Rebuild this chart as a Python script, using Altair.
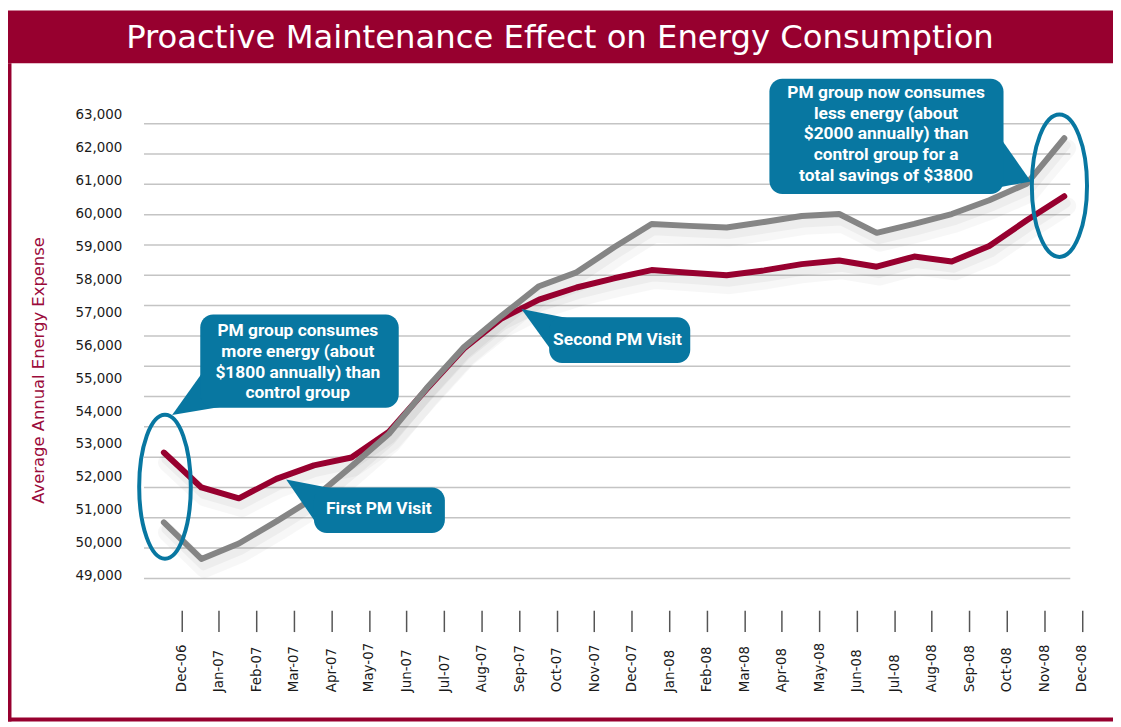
import json
import altair as alt
import pandas as pd

# ---------------- data ----------------
months = ["Dec-06", "Jan-07", "Feb-07", "Mar-07", "Apr-07", "May-07", "Jun-07", "Jul-07",
          "Aug-07", "Sep-07", "Oct-07", "Nov-07", "Dec-07", "Jan-08", "Feb-08", "Mar-08",
          "Apr-08", "May-08", "Jun-08", "Jul-08", "Aug-08", "Sep-08", "Oct-08", "Nov-08", "Dec-08"]
pm_group = [52740, 51680, 51350, 51940, 52350, 52590, 53370, 54660, 55900, 56810, 57380, 57750,
            58030, 58280, 58200, 58120, 58270, 58460, 58570, 58380, 58690, 58540, 59010, 59790, 60520]
control_group = [50620, 49510, 49980, 50650, 51360, 52320, 53310, 54690, 55940, 56890, 57790, 58210,
                 58970, 59680, 59620, 59570, 59740, 59920, 59980, 59410, 59680, 59980, 60400, 60900, 62280]
y_ticks = list(range(49000, 64000, 1000))
grid_values = [62721, 61801, 60881, 59961, 59040, 58120, 57200, 56280, 55360, 54440,
               53520, 52600, 51680, 50760, 49839, 48919]

title_text = "Proactive Maintenance Effect on Energy Consumption"
callout_text = [
    "PM group consumes\nmore energy (about\n$1800 annually) than\ncontrol group",
    "First PM Visit",
    "Second PM Visit",
    "PM group now consumes\nless energy (about\n$2000 annually) than\ncontrol group for a\ntotal savings of $3800",
]
box_x1 = [0.97, 4.00, 10.27, 16.14]
box_x2 = [6.26, 7.49, 14.03, 22.38]
box_top = [56930, 51680, 56850, 64090]
box_bottom = [54100, 50300, 55460, 60590]
text_x = [3.57, 5.73, 12.09, 19.25]
text_y = [56430, 51020, 56150, 63660]   # position of the first text line
tip_x = [0.22, 3.26, 9.53, 23.11]
tip_y = [53880, 51920, 57100, 60970]
ellipse_x = [0.03, 23.87]
ellipse_y = [51700, 60840]

# ---------------- styling ----------------
RED = "#97002F"
GRAY = "#858585"
TEAL = "#0877A1"
W, H = 933, 511
PAD = {"left": 137, "top": 81.5, "right": 43, "bottom": 123.5}


def ellipse_path(rx, ry):
    k = 0.5523
    return (f"M{-rx},0 C{-rx},{-k*ry} {-k*rx},{-ry} 0,{-ry} "
            f"C{k*rx},{-ry} {rx},{-k*ry} {rx},0 "
            f"C{rx},{k*ry} {k*rx},{ry} 0,{ry} "
            f"C{-k*rx},{ry} {-rx},{k*ry} {-rx},0 Z")


pointer_paths = ["M0,0 L30,-42 L48,-8 Z", "M0,0 L52,10 L31,45 Z",
                 "M0,0 L55,11 L31,43 Z", "M0,0 L-33,-47 L-37,7 Z"]
ellipse_paths = [ellipse_path(26, 72.5), ellipse_path(27.8, 71.7)]

# ---------------- tables ----------------
df = pd.DataFrame({
    "idx": list(range(len(months))) * 2,
    "month": months * 2,
    "value": pm_group + control_group,
    "series": ["PM group"] * len(months) + ["Control group"] * len(months),
})
grid_df = pd.DataFrame({"value": grid_values})
box_df = pd.DataFrame({"idx": box_x1, "idx2": box_x2, "value": box_top, "value2": box_bottom})
text_df = pd.DataFrame({"idx": text_x, "value": text_y, "label": callout_text})
tip_df = pd.DataFrame({"idx": tip_x, "value": tip_y, "path": pointer_paths})
ell_df = pd.DataFrame({"idx": ellipse_x, "value": ellipse_y, "path": ellipse_paths})
one = pd.DataFrame({"title": [title_text]})

x_scale = alt.Scale(domain=[-0.529, 24.16], nice=False, zero=False)
y_scale = alt.Scale(domain=[48300, 63700], nice=False, zero=False)

x_enc = alt.X("idx:Q", scale=x_scale, axis=alt.Axis(
    values=list(range(len(months))),
    labelExpr=f"{json.dumps(months)}[datum.value]",
    labelAngle=270, labelAlign="left", labelBaseline="middle",
    labelPadding=60.5, tickSize=21.5, tickOffset=17.7, tickColor="#555555", tickWidth=1.5,
    domain=False, grid=False, offset=11.5, labelFont="DejaVu Sans", labelFontSize=13.5,
    labelColor="#1a1a1a", title=None, labelOverlap=False))
y_enc = alt.Y("value:Q", scale=y_scale, axis=alt.Axis(
    values=y_ticks, format=",.0f", grid=False, ticks=False, tickSize=0, domain=False,
    labelPadding=22.3, labelFont="DejaVu Sans", labelFontSize=13.5, labelColor="#1a1a1a",
    title="Average Annual Energy Expense", titleColor="#9B0B3B", titleFont="DejaVu Sans",
    titleFontSize=16.5, titleFontWeight="normal", titleAngle=270, titleX=-106.7, titleY=280.5,
    titleAlign="center", titleBaseline="middle", labelOverlap=False))

# decorations (frame + title banner)
banner = alt.Chart(one).mark_rect(color=RED).encode(
    x=alt.value(-PAD["left"]), x2=alt.value(W + PAD["right"]),
    y=alt.value(-PAD["top"]), y2=alt.value(-PAD["top"] + 53))
left_border = alt.Chart(one).mark_rect(color=RED).encode(
    x=alt.value(-PAD["left"]), x2=alt.value(-PAD["left"] + 3.5),
    y=alt.value(-PAD["top"] + 53), y2=alt.value(H + PAD["bottom"]))
bottom_border = alt.Chart(one).mark_rect(color=RED).encode(
    x=alt.value(-PAD["left"]), x2=alt.value(W + PAD["right"]),
    y=alt.value(H + PAD["bottom"] - 4), y2=alt.value(H + PAD["bottom"]))
title = alt.Chart(one).mark_text(color="white", font="DejaVu Sans", fontSize=32.5, align="center",
                                 baseline="alphabetic").encode(
    x=alt.value(W / 2 - 47.5), y=alt.value(-43.5), text="title:N")

grid = alt.Chart(grid_df).mark_rule(color="#c4c4c4", strokeWidth=1.5).encode(
    x=alt.value(0), x2=alt.value(W), y=y_enc)

shadow1 = alt.Chart(df).mark_line(color="#000000", opacity=0.03, strokeWidth=18, yOffset=10, xOffset=3,
                                  strokeJoin="round", strokeCap="round").encode(
    x=x_enc, y=y_enc, detail="series:N")
shadow2 = alt.Chart(df).mark_line(color="#000000", opacity=0.04, strokeWidth=9, yOffset=7, xOffset=2,
                                  strokeJoin="round", strokeCap="round").encode(
    x=x_enc, y=y_enc, detail="series:N")

red_line = alt.Chart(df).transform_filter(alt.datum.series == "PM group").mark_line(
    color=RED, strokeWidth=6, strokeJoin="round", strokeCap="round").encode(x=x_enc, y=y_enc)
gray_line = alt.Chart(df).transform_filter(alt.datum.series == "Control group").mark_line(
    color=GRAY, strokeWidth=6, strokeJoin="round", strokeCap="round").encode(x=x_enc, y=y_enc)

ellipses = alt.Chart(ell_df).mark_point(filled=False, size=4, opacity=1, color=TEAL, strokeWidth=4).encode(
    x=x_enc, y=y_enc, shape=alt.Shape("path:N", scale=None))
pointers = alt.Chart(tip_df).mark_point(filled=True, size=4, opacity=1, color=TEAL, strokeWidth=0).encode(
    x=x_enc, y=y_enc, shape=alt.Shape("path:N", scale=None))
boxes = alt.Chart(box_df).mark_rect(color=TEAL, cornerRadius=13).encode(
    x=x_enc, x2="idx2:Q", y=y_enc, y2="value2:Q")
texts = alt.Chart(text_df).mark_text(color="white", font="Roboto", fontWeight="bold", fontSize=17.5,
                                     lineBreak="\n", lineHeight=21, align="center",
                                     baseline="middle").encode(x=x_enc, y=y_enc, text="label:N")

chart = alt.layer(
    banner, left_border, bottom_border, title, grid, shadow1, shadow2, red_line, gray_line,
    ellipses, pointers, boxes, texts
).properties(
    width=W, height=H,
    padding=PAD,
    autosize=alt.AutoSizeParams(type="none"),
).configure(background="white", view=alt.ViewConfig(stroke="transparent"))

chart.save("out.html", embed_options={"renderer": "svg", "actions": False})
